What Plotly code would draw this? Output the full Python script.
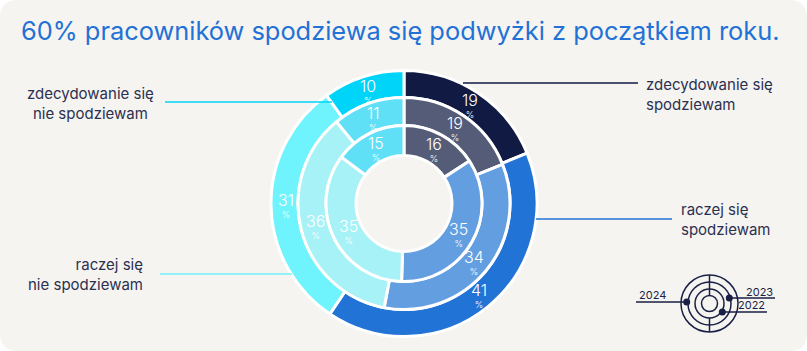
import math
import plotly.graph_objects as go

W, H = 807, 351

categories = ["zdecydowanie się spodziewam", "raczej się spodziewam",
              "raczej się nie spodziewam", "zdecydowanie się nie spodziewam"]
years = ["2024", "2023", "2022"]
values_2024 = [19, 41, 31, 10]
values_2023 = [19, 34, 36, 11]
values_2022 = [16, 35, 35, 15]

colors_outer = ["#101a42", "#2273d6", "#6ff3fc", "#00d5f9"]
colors_inner = ["#555c78", "#639ee0", "#a6f2f6", "#5fe0f6"]

title = "60% pracowników spodziewa się podwyżki z początkiem roku."


def px(x):
    return x / W


def py(y):
    return 1 - y / H


CX, CY = 404, 203.5
rings = [
    (values_2024, 133, 106, colors_outer, years[0]),
    (values_2023, 106, 78, colors_inner, years[1]),
    (values_2022, 78, 48, colors_inner, years[2]),
]

fig = go.Figure()
annotations = []
for vals, r_out, r_in, cols, yr in rings:
    fig.add_trace(go.Pie(
        labels=categories, values=vals, name=yr,
        domain=dict(x=[px(CX - r_out), px(CX + r_out)],
                    y=[py(CY + r_out), py(CY - r_out)]),
        hole=r_in / r_out, sort=False, direction="clockwise", rotation=0,
        marker=dict(colors=cols, line=dict(color="white", width=3)),
        textinfo="none",
        showlegend=False, hoverinfo="label+value",
    ))
    # value labels at slice centroids (mid-angle, mid-radius)
    total = sum(vals)
    cum = 0
    rm = (r_out + r_in) / 2 - 1
    for v in vals:
        ang = 2 * math.pi * (cum + v / 2) / total
        cum += v
        x = CX + rm * math.sin(ang)
        y = CY - rm * math.cos(ang)
        annotations.append(dict(
            text=f"<span style='font-size:16px'>{v}</span><br>%",
            x=px(x), y=py(y), xref="paper", yref="paper",
            xanchor="center", yanchor="middle", showarrow=False,
            font=dict(family="Inter", size=9, color="white", weight=300)))

# Card background with rounded corners
rr = 18
rx, ry = rr / W, rr / H
card = (f"M {rx},1 L {1-rx},1 Q 1,1 1,{1-ry} L 1,{ry} Q 1,0 {1-rx},0 "
        f"L {rx},0 Q 0,0 0,{ry} L 0,{1-ry} Q 0,1 {rx},1 Z")
shapes = [dict(type="path", path=card, xref="paper", yref="paper",
               fillcolor="#f5f4f0", line=dict(width=0), layer="below")]


def hline(x0, x1, y, color, width=1.3):
    shapes.append(dict(type="line", xref="paper", yref="paper",
                       x0=px(x0), x1=px(x1), y0=py(y), y1=py(y),
                       line=dict(color=color, width=width)))


# leader lines
hline(463, 638, 83, colors_outer[0])
hline(536, 672, 219, colors_outer[1])
hline(165, 332, 102, colors_outer[3])
hline(160, 292, 274, colors_outer[2])

annotations.append(
    dict(text=title, x=px(19), y=py(31), xref="paper", yref="paper",
         xanchor="left", yanchor="middle", showarrow=False,
         font=dict(family="Inter", size=25.4, color="#2271d6")))

lab_font = dict(family="Inter", size=15, color="#2c3050")
labels = [
    dict(text="zdecydowanie się<br>spodziewam", x=px(644), y=py(94.5),
         xanchor="left", yanchor="middle", align="left"),
    dict(text="raczej się<br>spodziewam", x=px(679), y=py(219.5),
         xanchor="left", yanchor="middle", align="left"),
    dict(text="zdecydowanie się<br>nie spodziewam", x=px(90), y=py(103.5),
         xanchor="center", yanchor="middle", align="center"),
    dict(text="raczej się<br>nie spodziewam", x=px(145), y=py(274),
         xanchor="right", yanchor="middle", align="right"),
]
for a in labels:
    a.update(xref="paper", yref="paper", showarrow=False, font=lab_font)
annotations += labels

# mini legend icon
LX, LY = 709.5, 303.5
ic = "#1a1f45"
for r in [28.5, 21.5, 14.5, 8]:
    shapes.append(dict(type="circle", xref="paper", yref="paper",
                       x0=px(LX - r), x1=px(LX + r), y0=py(LY + r), y1=py(LY - r),
                       line=dict(color=ic, width=1.5)))
shapes.append(dict(type="line", xref="paper", yref="paper",
                   x0=px(LX), x1=px(LX), y0=py(LY - 28.5), y1=py(LY - 8),
                   line=dict(color=ic, width=1.5)))
shapes.append(dict(type="line", xref="paper", yref="paper",
                   x0=px(LX), x1=px(LX), y0=py(LY + 14.5), y1=py(LY + 28.5),
                   line=dict(color=ic, width=1.5)))
for (dx, dy) in [(686.7, 302), (729.3, 298), (722.3, 312)]:
    r = 3.5
    shapes.append(dict(type="circle", xref="paper", yref="paper",
                       x0=px(dx - r), x1=px(dx + r), y0=py(dy + r), y1=py(dy - r),
                       fillcolor=ic, line=dict(color=ic, width=0)))
hline(636, 687, 302, ic, 1.3)
hline(729, 775, 298, ic, 1.3)
hline(722, 767, 312, ic, 1.3)
yr_font = dict(family="Inter", size=11, color=ic)
for txt, x, y in [(years[0], 637, 295), (years[1], 775, 291.5), (years[2], 767, 305)]:
    annotations.append(dict(text=txt, x=px(x), y=py(y), xref="paper", yref="paper",
                            xanchor="left" if txt == years[0] else "right",
                            yanchor="middle", showarrow=False, font=yr_font))

fig.update_layout(
    width=W, height=H, margin=dict(l=0, r=0, t=0, b=0),
    paper_bgcolor="white", plot_bgcolor="white",
    shapes=shapes, annotations=annotations,
)
fig.write_html("out.html")
